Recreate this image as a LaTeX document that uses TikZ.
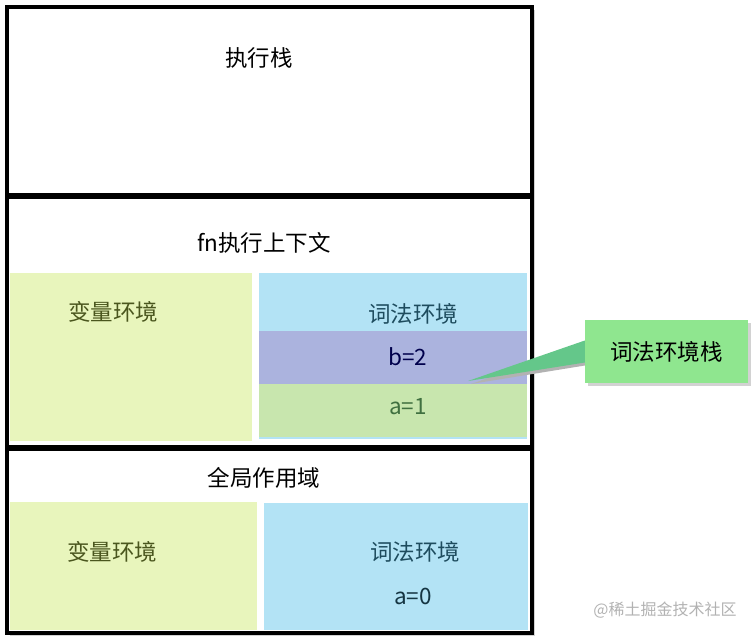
\documentclass[tikz,border=0pt]{standalone}
\usepackage{fontspec}
\setmainfont{Noto Sans CJK SC}
\usetikzlibrary{shadows}

\definecolor{varfill}{HTML}{E8F5BC}
\definecolor{lexfill}{HTML}{B3E3F5}
\definecolor{bfill}{HTML}{ABB3DE}
\definecolor{afill}{HTML}{C8E6AE}
\definecolor{notefill}{HTML}{8FE68F}
\definecolor{vartext}{HTML}{4A561E}
\definecolor{lextext}{HTML}{1E4C5E}

\begin{document}
\begin{tikzpicture}[x=1pt,y=-1pt,
    frame/.style={draw=black,fill=white,line width=3.5pt,inner sep=0pt,
      drop shadow={shadow xshift=3pt,shadow yshift=-3pt,fill=gray!70}},
    area/.style={inner sep=0pt,draw=none},
    title/.style={font=\fontsize{22.5}{26}\selectfont},
    envtext/.style={font=\fontsize{22.5}{26}\selectfont}]
  \useasboundingbox (0,0) rectangle (754,640);

  % three frames
  \node[frame,minimum width=525pt,minimum height=188pt] (stack) at (269.5,101) {};
  \node[frame,minimum width=525pt,minimum height=252pt] (fnctx) at (269.5,321) {};
  \node[frame,minimum width=525pt,minimum height=186pt] (global) at (269.5,540) {};
  \draw[line width=3.5pt] (stack.south west) -- (stack.south east);
  \draw[line width=3.5pt] (fnctx.south west) -- (fnctx.south east);

  \node[title] (stacktitle) at (259,58) {执行栈};
  \node[title] (fntitle) at (264,243) {fn执行上下文};
  \node[title] (gltitle) at (264,478) {全局作用域};

  % fn context
  \node[area,fill=varfill,minimum width=242pt,minimum height=168pt] (fnvar) at (131,357) {};
  \node[area,fill=lexfill,minimum width=268pt,minimum height=166pt] (fnlex) at (393,356) {};
  \node[area,fill=bfill,minimum width=268pt,minimum height=53pt] (bval) at (393,357.5) {};
  \node[area,fill=afill,minimum width=268pt,minimum height=53pt] (aval) at (393,410.5) {};
  \node[envtext,text=vartext] at (113,312) {变量环境};
  \node[envtext,text=lextext] at (413,314) {词法环境};
  \node[envtext,text=blue!30!black] at (408,357) {b=2};
  \node[envtext,text=green!25!black!75] at (408,407) {a=1};

  % global scope
  \node[area,fill=varfill,minimum width=247pt,minimum height=128pt] (glvar) at (133.5,566) {};
  \node[area,fill=lexfill,minimum width=264pt,minimum height=127pt] (gllex) at (396,566.5) {};
  \node[envtext,text=vartext] at (112,552) {变量环境};
  \node[envtext,text=lextext] at (415,552) {词法环境};
  \node[envtext,text=lextext!70!black] at (413,596) {a=0};

  % callout
  \coordinate (tip) at (468,381);
  \fill[gray!60] ([xshift=3pt,yshift=-3pt]tip) -- (588,343) -- (588,365) -- cycle;
  \node[area,fill=notefill,minimum width=163pt,minimum height=63pt,
    drop shadow={shadow xshift=3pt,shadow yshift=-3pt,fill=gray!70}] (note) at (666.5,351.5) {};
  \fill[notefill!70!teal] (tip) -- ([yshift=11pt]note.west) -- ([yshift=-11pt]note.west) -- cycle;
  \node[title] at (note) {词法环境栈};

  \node[text=gray!60,font=\fontsize{16}{18}\selectfont] (mark) at (665,610) {@稀土掘金技术社区};
\end{tikzpicture}
\end{document}
